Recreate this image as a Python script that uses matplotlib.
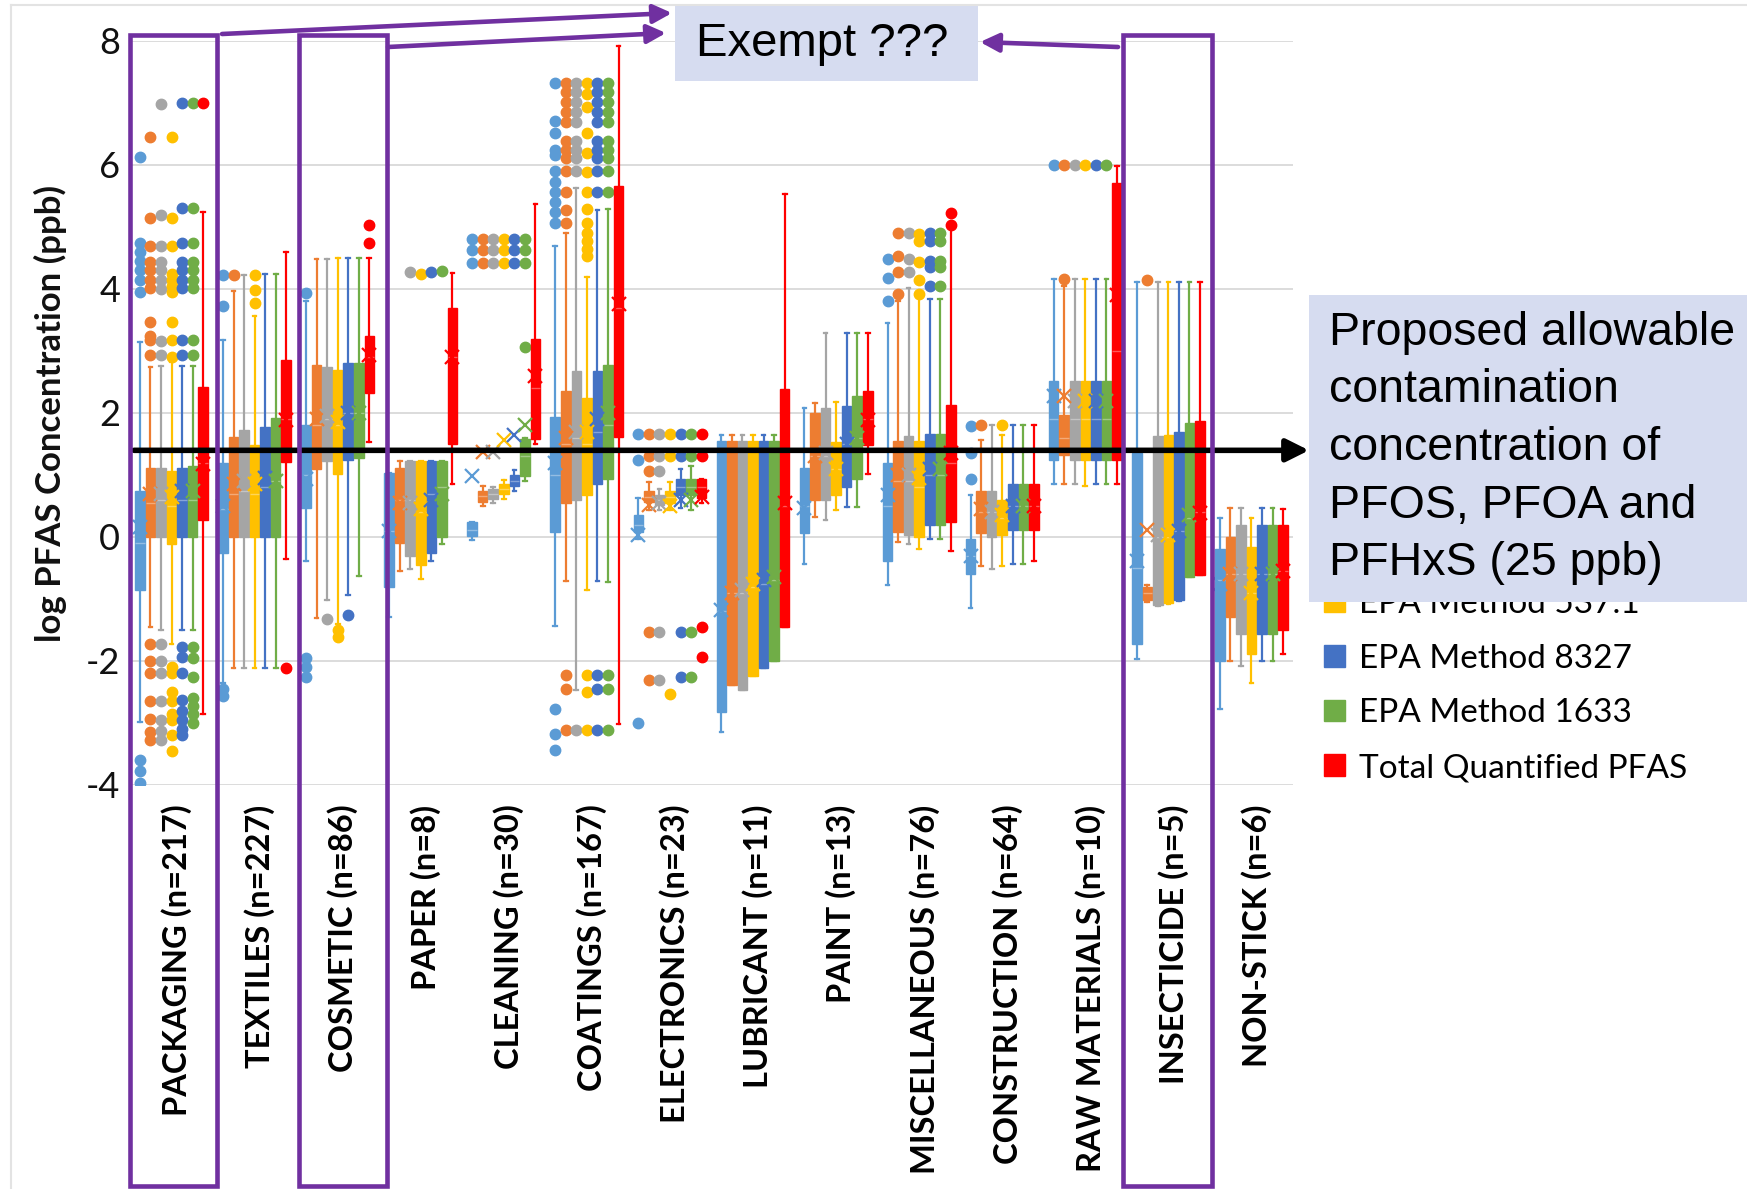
import matplotlib
matplotlib.use("Agg")
import matplotlib.pyplot as plt
import numpy as np
from matplotlib.patches import Rectangle, Patch
from matplotlib.text import Annotation
from matplotlib.transforms import blended_transform_factory, ScaledTranslation

plt.rcParams['axes.unicode_minus'] = False
plt.rcParams['font.family'] = ['Lato', 'DejaVu Sans']

W, H = 1747, 1189

categories = ["PACKAGING (n=217)", "TEXTILES (n=227)", "COSMETIC (n=86)", "PAPER (n=8)",
              "CLEANING (n=30)", "COATINGS (n=167)", "ELECTRONICS (n=23)", "LUBRICANT (n=11)",
              "PAINT (n=13)", "MISCELLANEOUS (n=76)", "CONSTRUCTION (n=64)",
              "RAW MATERIALS (n=10)", "INSECTICIDE (n=5)", "NON-STICK (n=6)"]
series_names = ["EPA Method 533", "EPA Method 537", "EPA Method 8321", "EPA Method 537.1",
                "EPA Method 8327", "EPA Method 1633", "Total Quantified PFAS"]
series_colors = ["#5B9BD5", "#ED7D31", "#A5A5A5", "#FFC000", "#4472C4", "#70AD47", "#FF0000"]

# rows = categories, columns = series
WHIS_LO = [
    [-2.98, -1.45, -1.50, -1.73, -1.50, -1.50, -2.86],
    [-2.35, -2.12, -2.12, -2.12, -2.12, -2.12, -0.35],
    [-0.39, -1.30, -1.02, -1.40, -0.94, -0.63, 1.53],
    [-1.29, -0.55, -0.51, -0.68, -0.39, -0.12, 0.86],
    [-0.05, 0.50, 0.55, 0.62, 0.75, 0.90, 1.50],
    [-1.44, -0.71, -2.47, -0.86, -0.71, -0.72, -3.02],
    [-0.04, 0.43, 0.43, 0.43, 0.47, 0.43, 0.55],
    [-3.14, -2.39, -2.47, -2.24, -2.12, -2.00, -1.45],
    [-0.43, 0.33, 0.27, 0.43, 0.49, 0.49, 1.02],
    [-0.78, -0.08, -0.12, -0.20, -0.04, -0.04, -0.22],
    [-1.14, -0.47, -0.51, -0.47, -0.43, -0.43, -0.38],
    [0.86, 0.86, 0.86, 0.82, 0.86, 0.86, 0.86],
    [-1.96, -1.05, -1.12, -1.08, -1.04, -0.64, -0.61],
    [-2.78, -2.00, -2.08, -2.35, -2.00, -2.00, -1.88],
]
Q1 = [
    [-0.86, 0.00, 0.00, -0.12, 0.00, 0.00, 0.27],
    [-0.25, 0.00, 0.00, 0.00, 0.00, 0.00, 1.21],
    [0.47, 1.10, 1.22, 1.02, 1.25, 1.27, 2.33],
    [-0.81, -0.10, -0.31, -0.45, -0.25, 0.00, 1.50],
    [0.02, 0.57, 0.61, 0.70, 0.82, 0.98, 1.58],
    [0.08, 0.55, 0.59, 0.67, 0.86, 0.94, 1.62],
    [0.08, 0.56, 0.51, 0.55, 0.67, 0.67, 0.63],
    [-2.82, -2.39, -2.47, -2.24, -2.12, -2.00, -1.45],
    [0.06, 0.59, 0.59, 0.67, 0.80, 0.93, 1.49],
    [-0.39, 0.08, 0.04, 0.00, 0.20, 0.20, 0.24],
    [-0.59, 0.06, 0.00, 0.04, 0.12, 0.12, 0.12],
    [1.24, 1.33, 1.25, 1.25, 1.25, 1.25, 1.25],
    [-1.73, -1.02, -1.10, -1.06, -1.02, -0.64, -0.61],
    [-2.00, -1.29, -1.57, -1.88, -1.57, -1.57, -1.50],
]
MED = [
    [-0.10, 0.55, 0.60, 0.50, 0.60, 0.60, 1.20],
    [0.45, 0.70, 0.75, 0.70, 0.80, 0.90, 1.90],
    [1.00, 1.80, 1.90, 1.80, 2.00, 2.00, 2.90],
    [0.10, 0.60, 0.60, 0.40, 0.70, 0.80, 2.90],
    [0.12, 0.66, 0.70, 0.78, 0.90, 1.30, 2.40],
    [1.00, 1.50, 1.60, 1.50, 1.70, 1.80, 3.70],
    [0.20, 0.65, 0.60, 0.65, 0.80, 0.80, 0.80],
    [-1.20, -0.90, -0.90, -0.80, -0.75, -0.70, 0.50],
    [0.50, 1.30, 1.30, 1.10, 1.50, 1.60, 1.90],
    [0.50, 0.90, 0.90, 0.80, 1.00, 1.00, 1.20],
    [-0.30, 0.40, 0.40, 0.30, 0.50, 0.50, 0.50],
    [1.90, 1.60, 1.90, 1.90, 1.90, 1.90, 3.00],
    [-0.50, -0.90, 0.00, 0.00, 0.10, 0.30, 0.40],
    [-0.70, -0.60, -0.60, -0.90, -0.60, -0.60, -0.55],
]
Q3 = [
    [0.75, 1.12, 1.12, 1.07, 1.12, 1.15, 2.42],
    [1.19, 1.61, 1.73, 1.49, 1.78, 1.92, 2.85],
    [1.80, 2.77, 2.75, 2.70, 2.80, 2.80, 3.24],
    [1.04, 1.12, 1.22, 1.22, 1.22, 1.22, 3.69],
    [0.24, 0.75, 0.77, 0.86, 1.00, 1.58, 3.20],
    [1.94, 2.35, 2.67, 2.24, 2.67, 2.77, 5.66],
    [0.35, 0.75, 0.67, 0.75, 0.93, 0.93, 0.93],
    [1.55, 1.55, 1.55, 1.55, 1.55, 1.55, 2.39],
    [1.11, 2.00, 2.08, 1.53, 2.12, 2.27, 2.35],
    [1.20, 1.55, 1.63, 1.55, 1.66, 1.66, 2.13],
    [-0.04, 0.75, 0.75, 0.59, 0.85, 0.85, 0.85],
    [2.51, 1.96, 2.51, 2.51, 2.51, 2.51, 5.71],
    [1.35, -0.81, 1.63, 1.65, 1.69, 1.84, 1.87],
    [-0.20, 0.00, 0.20, -0.16, 0.20, 0.20, 0.20],
]
WHIS_HI = [
    [3.14, 2.75, 2.76, 2.82, 2.76, 2.76, 5.25],
    [3.18, 3.96, 4.22, 3.57, 4.24, 4.24, 4.59],
    [3.80, 4.49, 4.49, 4.50, 4.50, 4.50, 4.50],
    [1.04, 1.23, 1.22, 1.22, 1.22, 1.22, 4.26],
    [0.24, 0.82, 0.80, 0.92, 1.08, 1.60, 5.37],
    [4.70, 4.90, 5.63, 4.20, 5.27, 5.29, 7.92],
    [0.63, 0.88, 0.78, 0.88, 1.10, 1.15, 0.93],
    [1.65, 1.65, 1.65, 1.65, 1.65, 1.65, 5.53],
    [2.08, 2.16, 3.29, 2.18, 3.29, 3.29, 3.29],
    [3.45, 3.80, 4.02, 3.85, 3.84, 3.84, 4.98],
    [0.67, 1.57, 1.80, 1.65, 1.80, 1.80, 1.80],
    [4.16, 4.05, 4.16, 4.16, 4.16, 4.16, 5.98],
    [4.12, -0.78, 4.12, 4.12, 4.12, 4.12, 4.12],
    [0.31, 0.47, 0.47, 0.31, 0.47, 0.47, 0.45],
]
MEAN = [
    [0.16, 0.70, 0.70, 0.65, 0.75, 0.75, 1.18],
    [0.50, 0.85, 0.90, 0.85, 0.95, 0.90, 1.88],
    [0.94, 1.90, 1.95, 1.85, 2.00, 2.00, 2.94],
    [0.10, 0.55, 0.55, 0.45, 0.60, 0.70, 2.90],
    [0.98, 1.37, 1.37, 1.57, 1.65, 1.80, 2.59],
    [1.20, 1.60, 1.70, 1.70, 1.90, 2.00, 3.76],
    [0.04, 0.51, 0.55, 0.50, 0.60, 0.60, 0.65],
    [-1.18, -0.90, -0.86, -0.75, -0.70, -0.65, 0.55],
    [0.47, 1.30, 1.35, 1.10, 1.50, 1.60, 1.88],
    [0.67, 1.00, 1.00, 0.95, 1.10, 1.10, 1.35],
    [-0.31, 0.45, 0.40, 0.35, 0.50, 0.50, 0.50],
    [2.27, 2.27, 2.20, 2.20, 2.20, 2.20, 3.90],
    [-0.39, 0.12, 0.04, 0.04, 0.10, 0.35, 0.39],
    [-0.75, -0.60, -0.60, -0.90, -0.60, -0.60, -0.55],
]

# outliers, one list per series
OUT_PACKAGING = [
    [6.13, 4.75, 4.60, 4.45, 4.30, 4.15, 3.95, -3.60, -3.77, -3.96],
    [6.45, 5.15, 4.70, 4.43, 4.30, 4.15, 4.02, 3.47, 3.25, 3.18, 2.94,
     -1.73, -2.00, -2.20, -2.65, -2.94, -3.14, -3.28],
    [6.98, 5.20, 4.70, 4.43, 4.30, 4.15, 4.00, 3.16, 2.93,
     -1.73, -2.00, -2.20, -2.65, -2.95, -3.13, -3.28],
    [6.45, 5.15, 4.70, 4.25, 4.15, 4.05, 3.95, 3.47, 3.18, 2.90,
     -2.10, -2.20, -2.50, -2.65, -2.85, -2.95, -3.20, -3.45],
    [7.00, 5.30, 4.75, 4.43, 4.30, 4.15, 4.02, 3.18, 2.93,
     -1.78, -1.93, -2.20, -2.63, -2.80, -2.95, -3.10, -3.20],
    [7.00, 5.30, 4.75, 4.43, 4.30, 4.15, 4.02, 3.18, 2.93,
     -1.78, -1.95, -2.25, -2.60, -2.72, -2.85, -3.00],
    [7.00],
]
OUT_TEXTILES = [[4.22, 3.72, -2.45, -2.57], [4.22], [], [4.22, 3.98, 3.78], [], [], [-2.12]]
OUT_COSMETIC = [[3.94, -1.95, -2.10, -2.25], [], [-1.33], [-1.50, -1.62], [-1.25], [], [5.04, 4.74]]
OUT_PAPER = [[], [], [4.27], [4.25], [4.28], [4.29], []]
OUT_CLEANING = [[4.80, 4.63, 4.42], [4.80, 4.63, 4.42], [4.80, 4.63, 4.42], [4.80, 4.63, 4.42],
                [4.80, 4.63, 4.42], [4.80, 4.63, 4.42, 3.06], []]
OUT_COATINGS = [
    [7.33, 6.71, 6.51, 6.24, 6.16, 5.90, 5.73, 5.57, 5.41, 5.25, 5.07, -2.78, -3.18, -3.43],
    [7.33, 7.18, 7.02, 6.86, 6.70, 6.39, 6.24, 6.12, 5.90, 5.57, 5.27, 5.07, -2.22, -2.45, -3.12],
    [7.33, 7.18, 7.02, 6.86, 6.70, 6.39, 6.24, 6.12, 5.90, -3.12],
    [7.33, 7.14, 6.94, 6.51, 6.20, 5.88, 5.57, 5.29, 5.06, 4.90, 4.78, 4.65, 4.53, -2.22, -2.50, -3.12],
    [7.33, 7.18, 7.02, 6.86, 6.70, 6.39, 6.24, 6.12, 5.90, 5.57, -2.22, -2.45, -3.12],
    [7.33, 7.18, 7.02, 6.86, 6.70, 6.39, 6.24, 6.12, 5.90, 5.57, -2.22, -2.45, -3.12],
    [],
]
OUT_ELECTRONICS = [[1.66, 1.24, -3.00], [1.66, 1.30, 1.07, -1.53, -2.31], [1.66, 1.30, 1.07, -1.53, -2.31],
                   [1.66, 1.30, -2.53], [1.66, 1.30, -1.53, -2.25], [1.66, 1.30, -1.53, -2.25],
                   [1.66, 1.30, -1.45, -1.93]]
OUT_LUBRICANT = [[], [], [], [], [], [], []]
OUT_PAINT = [[], [], [], [], [], [], []]
OUT_MISC = [[4.49, 4.18, 3.80], [4.90, 4.53, 4.27, 3.92], [4.90, 4.49, 4.27],
            [4.88, 4.78, 4.43, 4.14, 3.92], [4.90, 4.78, 4.45, 4.35, 4.05],
            [4.90, 4.78, 4.45, 4.35, 4.05], [5.22, 5.04]]
OUT_CONSTRUCTION = [[1.79, 1.36, 0.94], [1.80], [], [1.80], [], [], []]
OUT_RAW = [[6.00], [6.00, 4.16], [6.00], [6.00], [6.00], [6.00], []]
OUT_INSECTICIDE = [[], [4.14], [], [], [], [], []]
OUT_NONSTICK = [[], [], [], [], [], [], []]

OUTLIERS = [OUT_PACKAGING, OUT_TEXTILES, OUT_COSMETIC, OUT_PAPER, OUT_CLEANING, OUT_COATINGS,
            OUT_ELECTRONICS, OUT_LUBRICANT, OUT_PAINT, OUT_MISC, OUT_CONSTRUCTION, OUT_RAW,
            OUT_INSECTICIDE, OUT_NONSTICK]

LIMIT = 25.0  # ppb

# ---------------------------------------------------------------- figure
fig = plt.figure(figsize=(W / 100, H / 100), dpi=100)
fig.patch.set_facecolor("white")

ax_l, ax_r, ax_t, ax_b = 130, 1293, 41, 785
ax = fig.add_axes([ax_l / W, 1 - ax_b / H, (ax_r - ax_l) / W, (ax_b - ax_t) / H])
ax.set_facecolor("white")
ax.set_xlim(0, len(categories))
ax.set_ylim(-4, 8)
for s in ax.spines.values():
    s.set_visible(False)
ax.set_yticks(np.arange(-4, 9, 2))
ax.set_yticklabels([str(v) for v in range(-4, 9, 2)], fontsize=26, color="#111111")
ax.yaxis.grid(True, color="#D9D9D9", lw=1.3)
ax.set_axisbelow(True)
ax.tick_params(axis="both", length=0)
ax.tick_params(axis="y", pad=7)
ax.set_xticks(np.arange(len(categories)) + 0.5)
ax.set_xticklabels(categories, rotation=90, fontsize=23.5, fontweight="bold", va="top")
ax.tick_params(axis="x", pad=14)
shift = ScaledTranslation(5 / 100, 0, fig.dpi_scale_trans)
for lbl in ax.get_xticklabels():
    lbl.set_transform(lbl.get_transform() + shift)

step = 0.127
for j, (name, c) in enumerate(zip(series_names, series_colors)):
    stats = []
    for i in range(len(categories)):
        stats.append(dict(whislo=WHIS_LO[i][j], q1=Q1[i][j], med=MED[i][j], q3=Q3[i][j],
                          whishi=WHIS_HI[i][j], mean=MEAN[i][j],
                          fliers=np.array(OUTLIERS[i][j], dtype=float)))
    pos = np.arange(len(categories)) + 0.5 + (j - 3) * step
    ax.bxp(stats, positions=pos, widths=0.115, capwidths=0.045, patch_artist=True,
           showmeans=True, showfliers=True, manage_ticks=False,
           boxprops=dict(facecolor=c, edgecolor=c, lw=1),
           whiskerprops=dict(color=c, lw=1.6),
           capprops=dict(color=c, lw=1.6),
           medianprops=dict(color="white", lw=1, alpha=0.35),
           meanprops=dict(marker="x", markeredgecolor=c, markersize=10, markeredgewidth=1.6, zorder=5),
           flierprops=dict(marker="o", markerfacecolor=c, markeredgecolor=c, markersize=7.5,
                           linestyle="none"))

# y-axis title
fig.text(50 / W, 1 - 414 / H, "log PFAS Concentration (ppb)", rotation=90, ha="center", va="center",
         fontsize=25, fontweight="bold", color="#111111")

# legend
handles = [Patch(facecolor=c, edgecolor=c) for c in series_colors]
fig.legend(handles, series_names, loc="lower left", bbox_to_anchor=(1324 / W, 1 - 783 / H),
           frameon=False, fontsize=24, handlelength=0.62, handleheight=0.62,
           handletextpad=0.42, labelspacing=0.74, borderpad=0, borderaxespad=0)

# faint chart frame
fig.add_artist(plt.Line2D([11 / W, 11 / W], [0, 1 - 5 / H], color="#E3E3E3", lw=1.5))
fig.add_artist(plt.Line2D([11 / W, 1], [1 - 5 / H, 1 - 5 / H], color="#E3E3E3", lw=1.5))

# horizontal limit line with arrow
ax.annotate("", xy=(1309, np.log10(LIMIT)), xytext=(134, np.log10(LIMIT)),
            xycoords=("figure pixels", "data"), textcoords=("figure pixels", "data"),
            arrowprops=dict(arrowstyle="-|>", color="black", lw=4, mutation_scale=34,
                            shrinkA=0, shrinkB=0), annotation_clip=False, zorder=8)

# purple highlight rectangles
purple = "#7030A0"
btr = blended_transform_factory(ax.transData, fig.transFigure)
for x0, x1 in [(0.0, 1.05), (2.03, 3.09), (11.95, 13.03)]:
    fig.add_artist(Rectangle((x0, 1 - 1186 / H), x1 - x0, (1186 - 35) / H, transform=btr,
                             fill=False, edgecolor=purple, lw=3.3, zorder=9))

# purple arrows to "Exempt ???"
for (x0, y0), (x1, y1) in [((222, 34), (672, 13)), ((388, 47), (666, 33)), ((1118, 47), (980, 42))]:
    fig.add_artist(Annotation(
        "", xy=(x1, H - y1), xytext=(x0, H - y0), xycoords="figure pixels",
        textcoords="figure pixels",
        arrowprops=dict(arrowstyle="-|>", color=purple, lw=3.3, mutation_scale=28,
                        shrinkA=0, shrinkB=0), zorder=9))

box_col = "#D6DCF0"
fig.add_artist(Rectangle((675 / W, 1 - 81 / H), (978 - 675) / W, (81 - 6) / H,
                         transform=fig.transFigure, facecolor=box_col, edgecolor="none", zorder=10))
fig.text(822 / W, 1 - 44 / H, "Exempt ???", ha="center", va="center", fontsize=34,
         family="Liberation Sans", zorder=11)

fig.add_artist(Rectangle((1309 / W, 1 - 602 / H), (W - 1309) / W, (602 - 295) / H,
                         transform=fig.transFigure, facecolor=box_col, edgecolor="none", zorder=10))
fig.text(1329 / W, 1 - 448 / H,
         "Proposed allowable\ncontamination\nconcentration of\nPFOS, PFOA and\nPFHxS (25 ppb)",
         ha="left", va="center", fontsize=33.5, family="Liberation Sans", linespacing=1.4, zorder=11)

fig.savefig("out.png", dpi=100, facecolor="white")
